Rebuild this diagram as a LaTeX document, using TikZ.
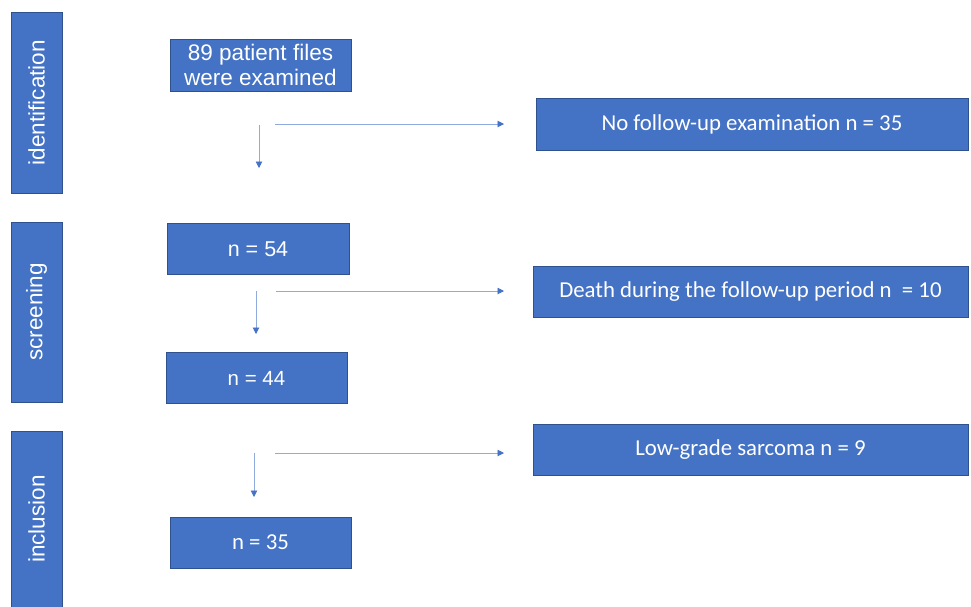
\documentclass[tikz,border=0pt]{standalone}
\usepackage{fontspec}
\setmainfont{Liberation Sans}
\newfontfamily\calib{Carlito}
\usetikzlibrary{arrows.meta}
\definecolor{boxblue}{HTML}{4472C4}
\definecolor{edgeblue}{HTML}{2F528F}
\definecolor{lineblue}{HTML}{8FAADC}
\tikzset{
  bluebox/.style={draw=edgeblue, line width=0.6pt, fill=boxblue, text=white, inner sep=0pt, align=center},
  stagebar/.style={bluebox, minimum width=51pt, font=\fontsize{22.5}{24}\selectfont},
  arialbox/.style={bluebox, font=\fontsize{22.5}{25}\selectfont},
  calbox/.style={bluebox, font=\calib\fontsize{22.8}{25}\selectfont},
  flowarrow/.style={draw=lineblue, line width=0.9pt, -{Triangle[length=6.5pt,width=6.5pt,color=boxblue]}}
}
\begin{document}
\begin{tikzpicture}[x=1pt,y=-1pt]
\useasboundingbox (0,0) rectangle (971,606);
% stage bars
\node[stagebar, minimum height=181pt] (idbar) at (36.5,102.5) {\rotatebox{90}{identification}};
\node[stagebar, minimum height=180pt] (scbar) at (36.5,312) {\rotatebox{90}{screening}};
\node[stagebar, minimum height=176pt] (inbar) at (36.5,519) {\rotatebox{90}{inclusion}};
% left boxes
\node[arialbox, minimum width=181pt, minimum height=52pt] (b89) at (260.5,65) {89 patient files\\were examined};
\node[arialbox, minimum width=182pt, minimum height=51pt, font=\fontsize{21.5}{24}\selectfont] (b54) at (258,249) {n = 54};
\node[arialbox, minimum width=181pt, minimum height=51pt, font=\fontsize{20.5}{24}\selectfont] (b44) at (256.5,378) {n = 44};
\node[calbox, minimum width=181pt, minimum height=51pt] (b35) at (260.5,542.5) {n = 35};
% right boxes
\node[calbox, minimum width=432pt, minimum height=52pt] (bno) at (752,124.5) {No follow-up examination n = 35};
\node[calbox, minimum width=435pt, minimum height=51pt] (bdeath) at (750.5,292) {Death during the follow-up period n\ \ = 10};
\node[calbox, minimum width=435pt, minimum height=51pt] (blow) at (750.5,450) {Low-grade sarcoma n = 9};
% arrow coordinates
\coordinate (d1s) at (259,125);
\coordinate (d1e) at (259,168);
\coordinate (h1s) at (275,124);
\coordinate (h1e) at (504,124);
\coordinate (d2s) at (256,291);
\coordinate (d2e) at (256,334);
\coordinate (h2s) at (276,291);
\coordinate (h2e) at (504,291);
\coordinate (d3s) at (254,453);
\coordinate (d3e) at (254,497);
\coordinate (h3s) at (275,453);
\coordinate (h3e) at (504,453);
\draw[flowarrow] (d1s) -- (d1e);
\draw[flowarrow] (h1s) -- (h1e);
\draw[flowarrow] (d2s) -- (d2e);
\draw[flowarrow] (h2s) -- (h2e);
\draw[flowarrow] (d3s) -- (d3e);
\draw[flowarrow] (h3s) -- (h3e);
\end{tikzpicture}
\end{document}
